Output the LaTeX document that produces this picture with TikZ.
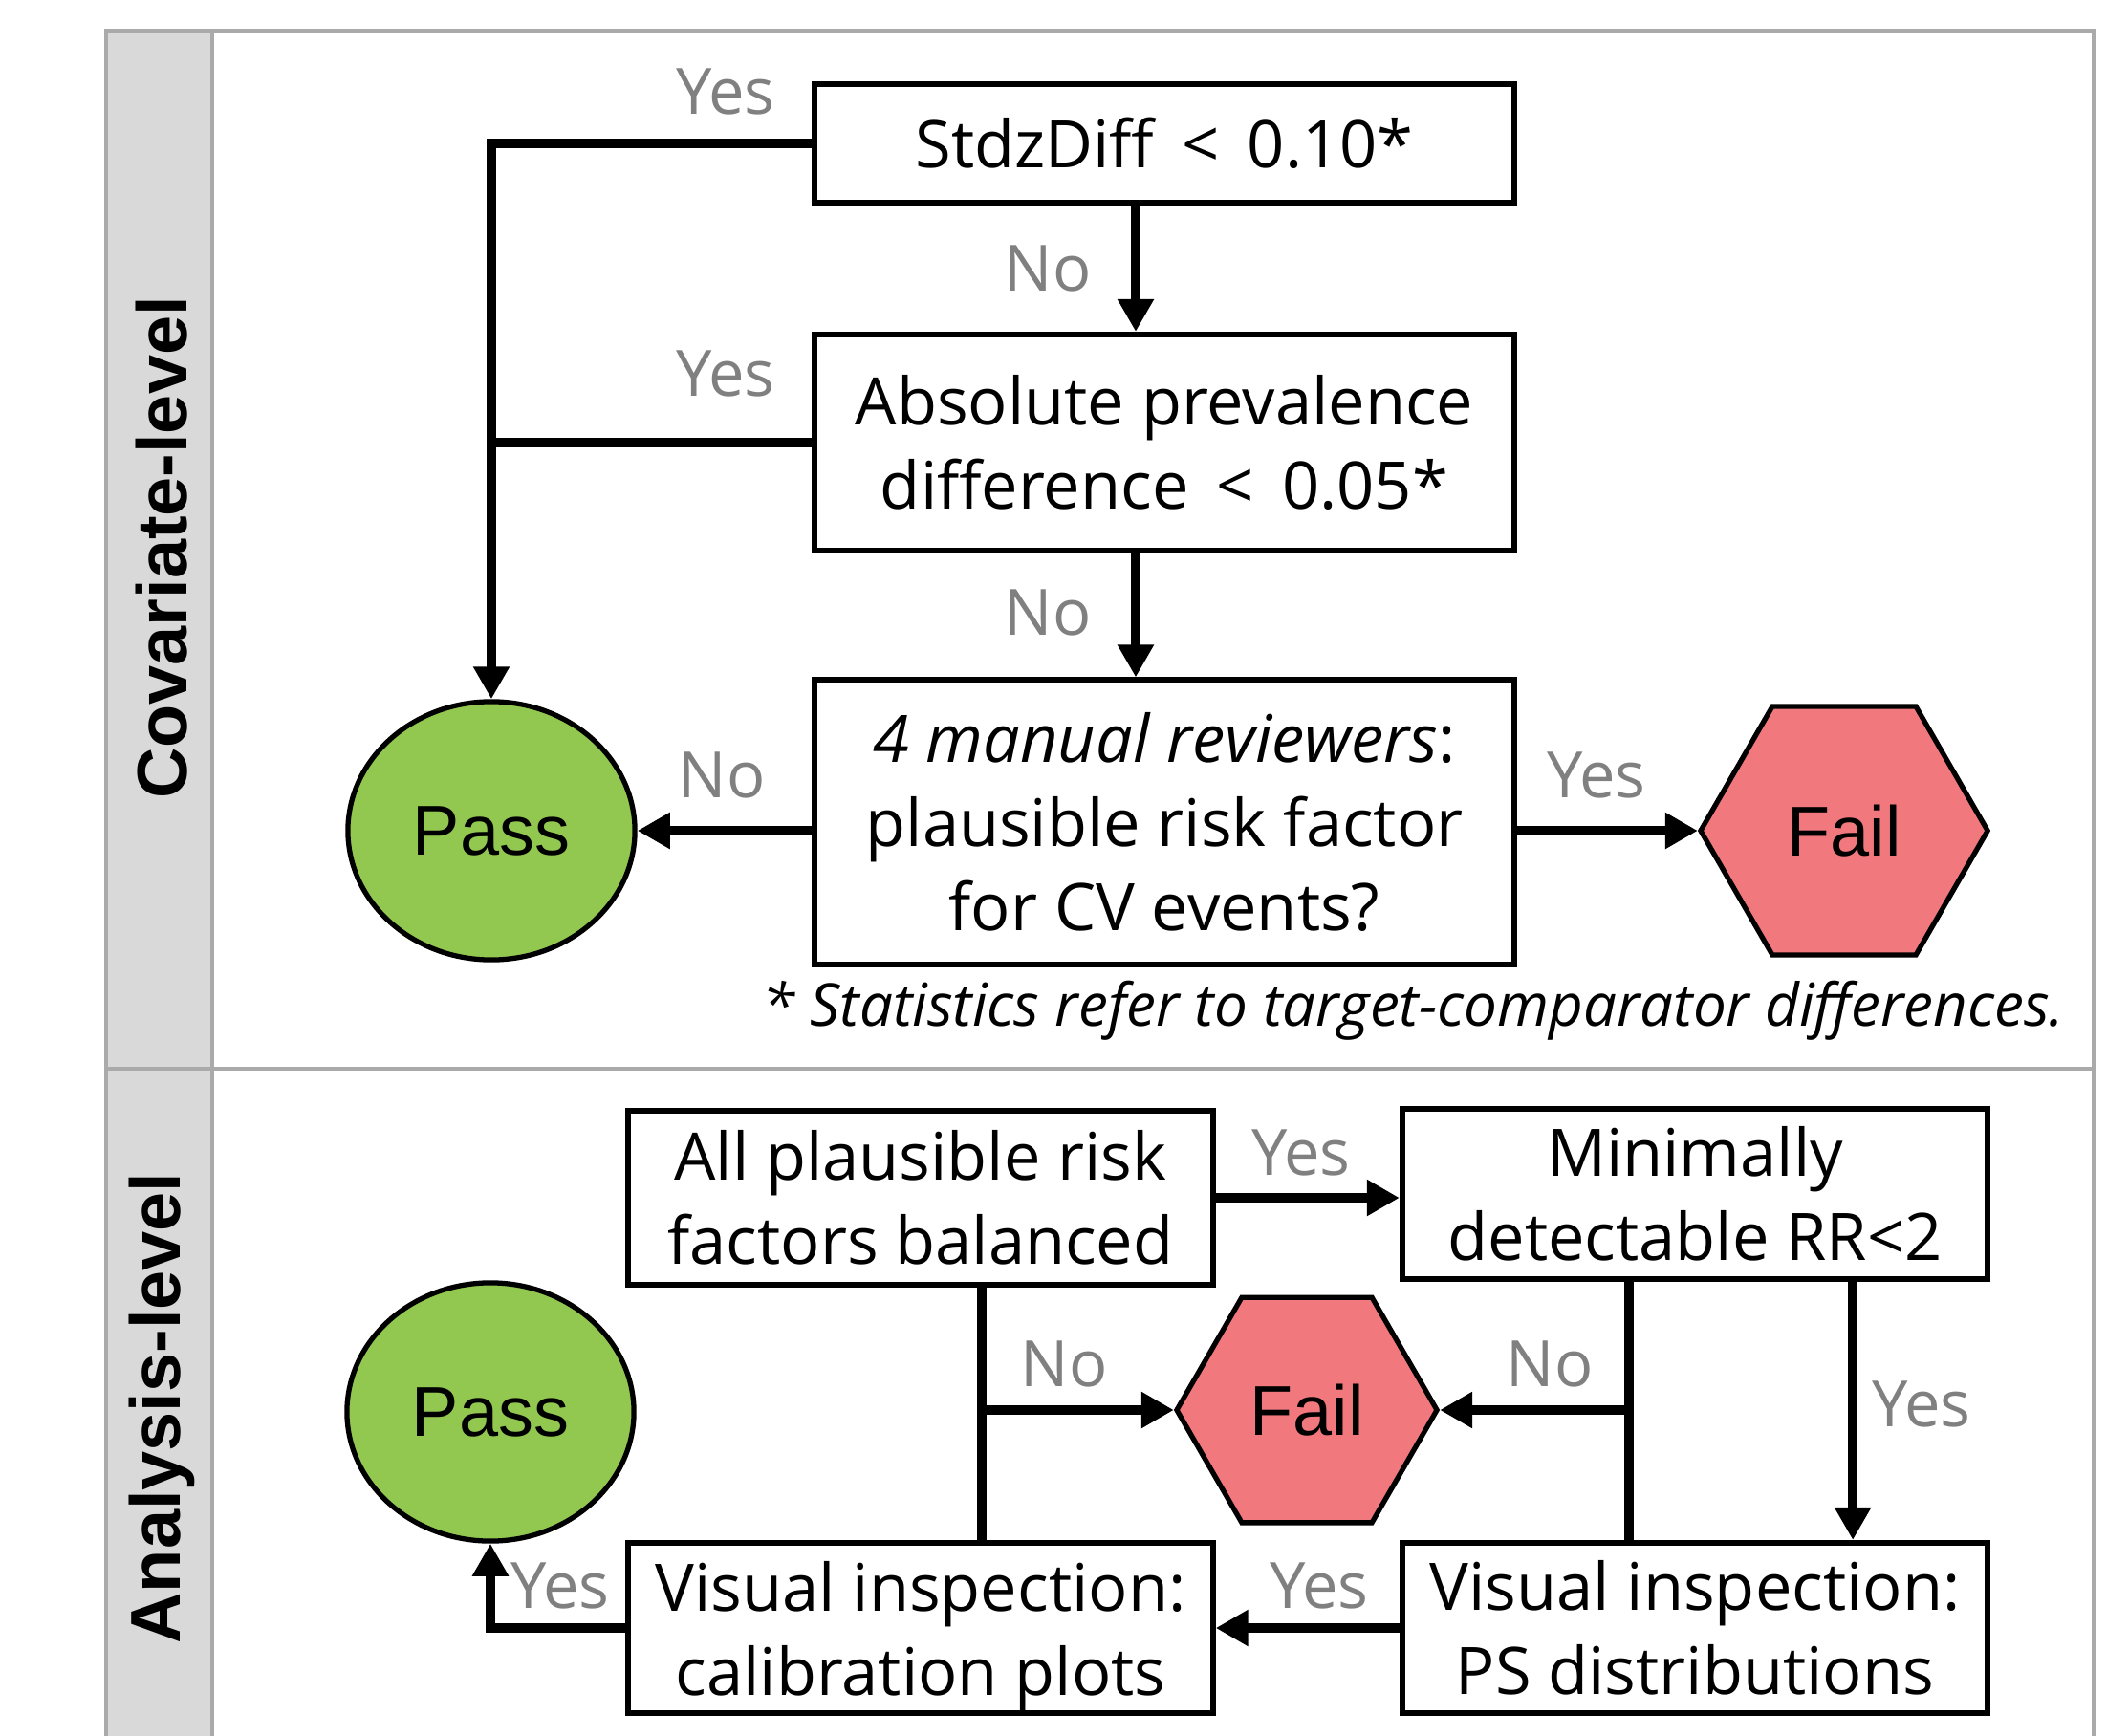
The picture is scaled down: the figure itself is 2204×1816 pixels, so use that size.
\documentclass[tikz,border=0pt]{standalone}
\usepackage{fontspec}
\setmainfont{Open Sans}
\newfontfamily\arialfont{Liberation Sans}
\usetikzlibrary{arrows.meta,shapes.geometric}

\definecolor{passgreen}{RGB}{146,200,80}
\definecolor{failred}{RGB}{241,121,126}
\definecolor{framegray}{RGB}{170,170,170}
\definecolor{lanegray}{RGB}{217,217,217}
\definecolor{labelgray}{RGB}{128,128,128}

\tikzset{
  box/.style={draw,line width=1.7pt,align=center,inner sep=0pt,font=\fontsize{19.5pt}{25pt}\selectfont},
  passnode/.style={ellipse,draw,line width=1.5pt,fill=passgreen,minimum width=3cm,minimum height=2.7cm,inner sep=0pt,font=\arialfont\fontsize{21pt}{21pt}\selectfont},
  failnode/.style={regular polygon,regular polygon sides=6,draw,line width=1.5pt,fill=failred,inner sep=0pt,font=\arialfont\fontsize{21pt}{21pt}\selectfont},
  yesno/.style={text=labelgray,inner sep=0pt,font=\fontsize{19pt}{19pt}\selectfont},
  flow/.style={line width=2.7pt},
  flowarrow/.style={flow,-{Triangle[length=0.34cm,width=0.36cm]}},
  lane/.style={rotate=90,inner sep=0pt,font=\arialfont\bfseries\fontsize{21pt}{21pt}\selectfont}
}

\begin{document}
\begin{tikzpicture}[x=0.01cm,y=-0.01cm]
  \useasboundingbox (0,0) rectangle (2204,1816);
  %moldura
  \fill[lanegray] (111,32) rectangle (222,1830);
  \draw[framegray,line width=1.2pt] (111,32) rectangle (2190,1830);
  \draw[framegray,line width=1.2pt] (222,32) -- (222,1830);
  \draw[framegray,line width=1.2pt] (111,1118) -- (2190,1118);
  \node[lane] (lcov) at (169,573) {Covariate-level};
  \node[lane] (lana) at (169,1473) {Analysis-level};

  %nivel das covariaveis
  \node[box,minimum width=7.31cm,minimum height=1.24cm] (stdz) at (1218,150) {StdzDiff \,<\, 0.10*};
  \node[box,minimum width=7.31cm,minimum height=2.26cm] (absp) at (1218,463) {Absolute prevalence\\difference \,<\, 0.05*};
  \node[box,minimum width=7.31cm,minimum height=2.97cm] (revw) at (1218,860) {\textit{4 manual reviewers}:\\plausible risk factor\\for CV events?};
  \node[passnode] (pass1) at (514,869) {Pass};
  \node[failnode,minimum size=3cm] (fail1) at (1929,869) {Fail};

  \draw[flowarrow] (stdz.west) -| (pass1.north);
  \draw[flow] (absp.west) -- (absp.west -| pass1.north);
  \draw[flowarrow] ([xshift=-0.3cm]stdz.south) -- ([xshift=-0.3cm]absp.north);
  \draw[flowarrow] ([xshift=-0.3cm]absp.south) -- ([xshift=-0.3cm]revw.north);
  \draw[flowarrow] (revw.west |- pass1.east) -- (pass1.east);
  \draw[flowarrow] (revw.east |- fail1.west) -- (fail1.west);

  \node[yesno] (y1) at (759,96) {Yes};
  \node[yesno] (y2) at (759,391) {Yes};
  \node[yesno] (n1) at (1096,281) {No};
  \node[yesno] (n2) at (1096,641) {No};
  \node[yesno] (n3) at (755,811) {No};
  \node[yesno] (y3) at (1670,811) {Yes};
  \node[inner sep=0pt,font=\itshape\fontsize{17.6pt}{17.6pt}\selectfont,anchor=east] (nota) at (2160,1057) {* Statistics refer to target-comparator differences.};

  %nivel da analise
  \node[box,minimum width=6.11cm,minimum height=1.82cm] (allb) at (963,1253) {All plausible risk\\factors balanced};
  \node[box,minimum width=6.12cm,minimum height=1.78cm] (mdrr) at (1773,1249) {Minimally\\detectable RR<2};
  \node[box,minimum width=6.11cm,minimum height=1.78cm,text depth=0pt] (vcal) at (963,1703) {Visual inspection:\\calibration plots};
  \node[box,minimum width=6.12cm,minimum height=1.78cm] (vps) at (1773,1703) {Visual inspection:\\PS distributions};
  \node[passnode] (pass2) at (513,1477) {Pass};
  \node[failnode,minimum size=2.72cm] (fail2) at (1367,1475) {Fail};

  \coordinate (jl) at ([xshift=0.64cm]allb.south |- fail2.west);
  \coordinate (jr) at ([xshift=-0.69cm]mdrr.south |- fail2.east);

  \draw[flowarrow] (allb.east) -- (allb.east -| mdrr.west);
  \draw[flow] ([xshift=0.64cm]allb.south) -- ([xshift=0.64cm]vcal.north);
  \draw[flowarrow] (jl) -- (fail2.west);
  \draw[flow] ([xshift=-0.69cm]mdrr.south) -- ([xshift=-0.69cm]vps.north);
  \draw[flowarrow] (jr) -- (fail2.east);
  \draw[flowarrow] ([xshift=1.65cm]mdrr.south) -- ([xshift=1.65cm]vps.north);
  \draw[flowarrow] (vps.west) -- (vcal.east);
  \draw[flowarrow] (vcal.west) -| (pass2.south);

  \node[yesno] (y4) at (1361,1206) {Yes};
  \node[yesno] (n4) at (1113,1427) {No};
  \node[yesno] (n5) at (1621,1427) {No};
  \node[yesno] (y5) at (2010,1469) {Yes};
  \node[yesno] (y6) at (1380,1659) {Yes};
  \node[yesno] (y7) at (586,1659) {Yes};
\end{tikzpicture}
\end{document}
